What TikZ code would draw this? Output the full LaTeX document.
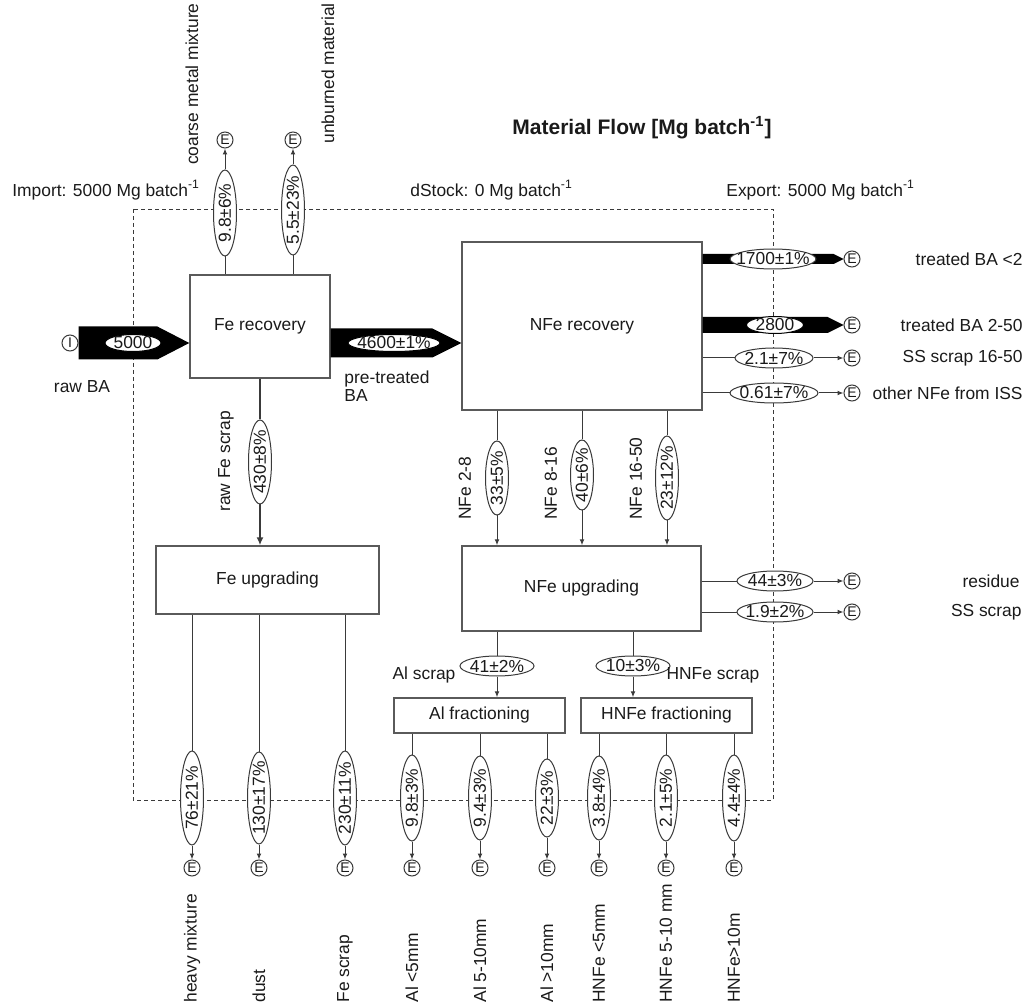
\documentclass[tikz,border=0pt]{standalone}
\usepackage{fontspec}
\setmainfont{Liberation Sans}
\usepackage{tikz}
\usetikzlibrary{shapes.geometric, arrows.meta, calc}

\definecolor{linegray}{HTML}{3A3A3A}
\definecolor{boxgray}{HTML}{5A5A5A}
\definecolor{textgray}{HTML}{1A1A1A}

\newcommand{\fatflow}[4]{%
  \fill ($(#1)+(0,#3)$) -- ($(#2)+(-#4,#3)$) -- (#2) -- ($(#2)+(-#4,-#3)$) -- ($(#1)+(0,-#3)$) -- cycle;}

\begin{document}
\begin{tikzpicture}[
    x=0.5pt, y=-0.5pt,
    font=\fontsize{8.7}{10}\selectfont, text=textgray,
    box/.style={draw=boxgray, line width=0.7pt, fill=white, inner sep=0pt},
    flow/.style={ellipse, draw=linegray, line width=0.5pt, fill=white, inner xsep=-40pt, inner ysep=-4pt, minimum height=10pt, minimum width=#1},
    inflow/.style={flow=#1, minimum height=8.5pt, draw=black},
    vflow/.style={flow=#1, rotate=90, minimum height=11.5pt},
    sink/.style={circle, draw=linegray, line width=0.5pt, inner sep=0pt, minimum size=8pt, font=\fontsize{7}{7}\selectfont},
    lbl/.style={inner sep=0pt},
    vlbl/.style={rotate=90, inner sep=0pt},
    line/.style={draw=linegray, line width=0.5pt},
    arr/.style={line, -{Latex[length=3pt, width=2.4pt]}},
    boundary/.style={draw=linegray, line width=0.45pt, dash pattern=on 2pt off 1.5pt}
]
\useasboundingbox (0,0) rectangle (1025,1006);

\node[lbl, font=\fontsize{10.5}{12}\selectfont\bfseries] (title) at (642,128) {Material Flow [Mg batch\textsuperscript{-1}]};
\node[lbl, anchor=west] (imp) at (12,190) {Import: 5000 Mg batch\textsuperscript{-1}};
\node[lbl, anchor=west] (dst) at (410,190) {dStock: 0 Mg batch\textsuperscript{-1}};
\node[lbl, anchor=west] (exp) at (726,190) {Export: 5000 Mg batch\textsuperscript{-1}};

\path[boundary] (133,209) rectangle (773,800);

\node[box, minimum width=70pt, minimum height=51.5pt] (ferec) at (260,326.5) {Fe recovery};
\node[box, minimum width=120pt, minimum height=84pt] (nfrec) at (582,326) {NFe recovery};
\node[box, minimum width=111.5pt, minimum height=34pt] (feupg) at (267.5,580) {Fe upgrading};
\node[box, minimum width=119.5pt, minimum height=42.5pt] (nfupg) at (581.5,588.5) {NFe upgrading};
\node[box, minimum width=85.5pt, minimum height=17.5pt] (alfr) at (479.5,715.5) {Al fractioning};
\node[box, minimum width=85.5pt, minimum height=17.5pt] (hnfr) at (666.5,715.5) {HNFe fractioning};

\node[vflow=43pt] (fcmm) at (225,213) {9.8±6\%};
\node[sink] (ecmm) at (225,140) {E};
\node[vlbl, anchor=east] (lcmm) at (192,3) {coarse metal mixture};
\path[line] (ferec.north -| fcmm) -- (fcmm);
\path[arr] (fcmm) -- (ecmm);

\node[vflow=45pt] (fubm) at (293,210) {5.5±23\%};
\node[sink] (eubm) at (293,140) {E};
\node[vlbl, anchor=east] (lubm) at (328,3) {unburned material};
\path[line] (ferec.north -| fubm) -- (fubm);
\path[arr] (fubm) -- (eubm);

\node[sink] (iba) at (70,343) {I};
\fatflow{iba.east}{ferec.west |- iba}{16.5}{32}
\node[inflow=28pt] (fba) at (133,343) {5000};
\node[lbl] (lba) at (82,387) {raw BA};

\coordinate (cpt) at (394,343);
\fatflow{ferec.east |- cpt}{nfrec.west |- cpt}{14.5}{29}
\node[inflow=46pt] (fpt) at (cpt) {4600±1\%};
\node[lbl, align=left, font=\fontsize{8.7}{9}\selectfont] (lpt) at (387,386) {pre-treated\\BA};

\node[vflow=42pt] (frfs) at (260,462) {430±8\%};
\path[line, line width=1.3pt] (ferec.south -| frfs) -- (frfs);
\path[line, line width=1.3pt, -{Latex[length=4pt, width=3.5pt]}] (frfs) -- (feupg.north -| frfs);
\node[vlbl, anchor=west] (lrfs) at (226,512) {raw Fe scrap};

\node[vflow=37pt] (f28) at (497,478) {33±5\%};
\path[line] (nfrec.south -| f28) -- (f28);
\path[arr] (f28) -- (nfupg.north -| f28);
\node[vlbl, anchor=west] (l28) at (465,520) {NFe 2-8};

\node[vflow=35pt] (f816) at (582,475) {40±6\%};
\path[line] (nfrec.south -| f816) -- (f816);
\path[arr] (f816) -- (nfupg.north -| f816);
\node[vlbl, anchor=west] (l816) at (551,520) {NFe 8-16};

\node[vflow=42pt] (f1650) at (667,478) {23±12\%};
\path[line] (nfrec.south -| f1650) -- (f1650);
\path[arr] (f1650) -- (nfupg.north -| f1650);
\node[vlbl, anchor=west] (l1650) at (636,520) {NFe 16-50};

\node[sink] (ebl2) at (852,259) {E};
\fatflow{nfrec.east |- ebl2}{ebl2.west}{5}{10}
\node[flow=43pt] (fbl2) at (773,259) {1700±1\%};
\node[lbl, anchor=east] (lbl2) at (1023,259) {treated BA <2};

\node[sink] (eb250) at (852,325) {E};
\fatflow{nfrec.east |- eb250}{eb250.west}{8}{16}
\node[inflow=28.5pt] (fb250) at (775,325) {2800};
\node[lbl, anchor=east] (lb250) at (1023,325) {treated BA 2-50};

\node[flow=39pt] (fss) at (774,358) {2.1±7\%};
\node[sink] (ess) at (852,358) {E};
\path[line] (nfrec.east |- fss) -- (fss);
\path[arr] (fss) -- (ess);
\node[lbl, anchor=east] (lss) at (1023,358) {SS scrap 16-50};

\node[flow=44pt] (fiss) at (774,393) {0.61±7\%};
\node[sink] (eiss) at (852,393) {E};
\path[line] (nfrec.east |- fiss) -- (fiss);
\path[arr] (fiss) -- (eiss);
\node[lbl, anchor=east] (liss) at (1023,393) {other NFe from ISS};

\node[flow=38pt] (fres) at (775,581) {44±3\%};
\node[sink] (eres) at (852,581) {E};
\path[line] (nfupg.east |- fres) -- (fres);
\path[arr] (fres) -- (eres);
\node[lbl, anchor=east] (lres) at (1020,581) {residue};

\node[flow=38pt] (fssu) at (775,612) {1.9±2\%};
\node[sink] (essu) at (852,612) {E};
\path[line] (nfupg.east |- fssu) -- (fssu);
\path[arr] (fssu) -- (essu);
\node[lbl, anchor=east] (lssu) at (1022,612) {SS scrap};

\node[flow=37pt] (fal) at (497,666) {41±2\%};
\path[line] (nfupg.south -| fal) -- (fal);
\path[arr] (fal) -- (alfr.north -| fal);
\node[lbl] (lal) at (424,675) {Al scrap};

\node[flow=37pt] (fhn) at (633,666) {10±3\%};
\path[line] (nfupg.south -| fhn) -- (fhn);
\path[arr] (fhn) -- (hnfr.north -| fhn);
\node[lbl] (lhn) at (713,675) {HNFe scrap};

\node[vflow=47pt] (fhm) at (192,798) {76±21\%};
\node[sink] (ehm) at (192,868) {E};
\path[line] (feupg.south -| fhm) -- (fhm);
\path[arr] (fhm) -- (ehm);
\node[vlbl, anchor=west] (lhm) at (192,1003) {heavy mixture};

\node[vflow=46pt] (fdu) at (259,798) {130±17\%};
\node[sink] (edu) at (259,868) {E};
\path[line] (feupg.south -| fdu) -- (fdu);
\path[arr] (fdu) -- (edu);
\node[vlbl, anchor=west] (ldu) at (259,1003) {dust};

\node[vflow=47pt] (ffs) at (345,798) {230±11\%};
\node[sink] (efs) at (345,868) {E};
\path[line] (feupg.south -| ffs) -- (ffs);
\path[arr] (ffs) -- (efs);
\node[vlbl, anchor=west] (lfs) at (345,1003) {Fe scrap};

\node[vflow=43pt] (fal5) at (412,798) {9.8±3\%};
\node[sink] (eal5) at (412,868) {E};
\path[line] (alfr.south -| fal5) -- (fal5);
\path[arr] (fal5) -- (eal5);
\node[vlbl, anchor=west] (lal5) at (412,1003) {Al <5mm};

\node[vflow=42pt] (fal10) at (480,798) {9.4±3\%};
\node[sink] (eal10) at (480,868) {E};
\path[line] (alfr.south -| fal10) -- (fal10);
\path[arr] (fal10) -- (eal10);
\node[vlbl, anchor=west] (lal10) at (480,1003) {Al 5-10mm};

\node[vflow=39pt] (falx) at (547,798) {22±3\%};
\node[sink] (ealx) at (547,868) {E};
\path[line] (alfr.south -| falx) -- (falx);
\path[arr] (falx) -- (ealx);
\node[vlbl, anchor=west] (lalx) at (547,1003) {Al >10mm};

\node[vflow=42pt] (fhn5) at (599,798) {3.8±4\%};
\node[sink] (ehn5) at (599,868) {E};
\path[line] (hnfr.south -| fhn5) -- (fhn5);
\path[arr] (fhn5) -- (ehn5);
\node[vlbl, anchor=west] (lhn5) at (599,1003) {HNFe <5mm};

\node[vflow=43pt] (fhn10) at (666,798) {2.1±5\%};
\node[sink] (ehn10) at (666,868) {E};
\path[line] (hnfr.south -| fhn10) -- (fhn10);
\path[arr] (fhn10) -- (ehn10);
\node[vlbl, anchor=west] (lhn10) at (666,1003) {HNFe 5-10 mm};

\node[vflow=43pt] (fhnx) at (734,798) {4.4±4\%};
\node[sink] (ehnx) at (734,868) {E};
\path[line] (hnfr.south -| fhnx) -- (fhnx);
\path[arr] (fhnx) -- (ehnx);
\node[vlbl, anchor=west] (lhnx) at (734,1003) {HNFe>10m};
\end{tikzpicture}
\end{document}
